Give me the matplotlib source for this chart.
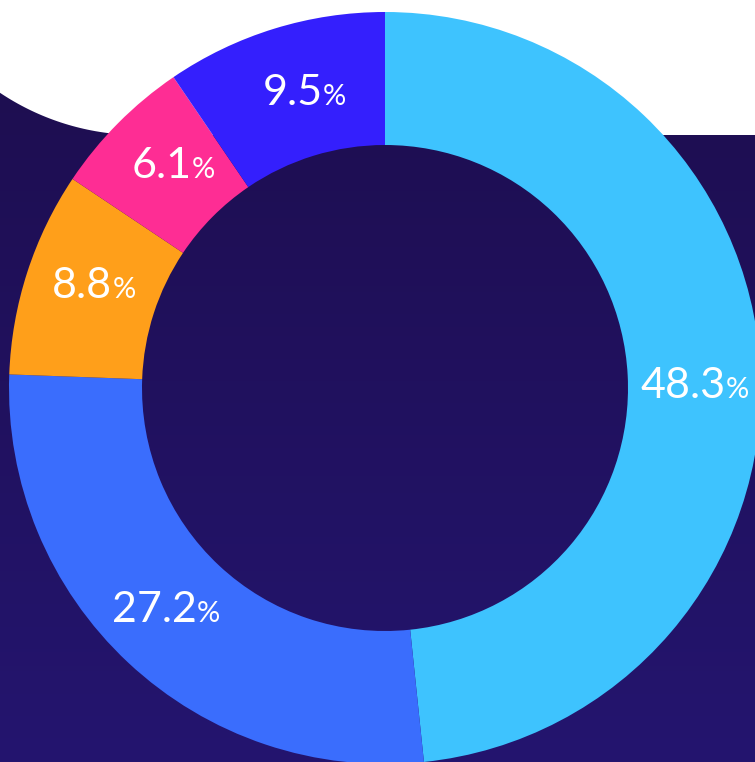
import numpy as np
import matplotlib
matplotlib.use("Agg")
import matplotlib.pyplot as plt
from matplotlib.patches import Polygon
from matplotlib.colors import LinearSegmentedColormap

# ---- data ----
values = [48.3, 27.2, 8.8, 6.1, 9.5]
labels = ["48.3", "27.2", "8.8", "6.1", "9.5"]
colors = ["#3ec3fe", "#3a6dfd", "#ff9f1a", "#fe2d94", "#341ffd"]

W, H, DPI = 755, 762, 100
fig = plt.figure(figsize=(W / DPI, H / DPI), dpi=DPI)
fig.patch.set_facecolor("white")

# ---- background (pixel coordinates, y down) ----
bg = fig.add_axes([0, 0, 1, 1], zorder=0)
bg.axis("off")
cmap = LinearSegmentedColormap.from_list("bg", ["#1d0d4d", "#24156f"])
grad = np.linspace(0, 1, 256).reshape(-1, 1)
bg.imshow(grad, cmap=cmap, extent=[0, W, H, 0], aspect="auto", zorder=0)

# white top shape with large rounded bottom-left corner
cx, cy, r = 139, -115, 250
th = np.linspace(np.pi / 2, np.pi, 100)
arc = np.column_stack([cx + r * np.cos(th), cy + r * np.sin(th)])
pts = np.vstack([[[W + 20, -200], [W + 20, 135]], arc, [[-200, -200]]])
bg.add_patch(Polygon(pts, closed=True, facecolor="white", edgecolor="none", zorder=1))
bg.set_xlim(0, W)
bg.set_ylim(H, 0)

# ---- donut ----
center_px = (385, 388)
R = 376
inner = 243
ax = fig.add_axes([(center_px[0] - R) / W, (H - center_px[1] - R) / H, 2 * R / W, 2 * R / H], zorder=1)
ax.set_facecolor("none")
width = 1 - inner / R
wedges, _ = ax.pie(values, colors=colors, startangle=90, counterclock=False,
                   radius=1, wedgeprops=dict(width=width, linewidth=0, antialiased=True))
ax.set_xlim(-1, 1)
ax.set_ylim(-1, 1)
ax.set_aspect("equal")
ax.axis("off")

# ---- labels ----
font = "Lato"
weight = "normal"
fs_num = 31
fs_pct = 21
fig.canvas.draw()
renderer = fig.canvas.get_renderer()
total = sum(values)
cum = 0.0
rmid = 1 - width / 2
angle_shift = -2.0
for v, lab in zip(values, labels):
    mid = 90 - (cum + v / 2) / total * 360 + angle_shift
    cum += v
    x = rmid * np.cos(np.radians(mid))
    y = rmid * np.sin(np.radians(mid))
    t1 = ax.text(0, 0, lab, fontsize=fs_num, family=font, weight=weight, color="white")
    t2 = ax.text(0, 0, "%", fontsize=fs_pct, family=font, weight=weight, color="white")
    w1 = t1.get_window_extent(renderer).width * 72 / DPI
    w2 = t2.get_window_extent(renderer).width * 72 / DPI
    t1.remove(); t2.remove()
    tot = w1 + w2
    cap = fs_num * 0.72
    ax.annotate(lab, (x, y), xytext=(-tot / 2, -cap / 2), textcoords="offset points",
                ha="left", va="baseline", fontsize=fs_num, family=font, weight=weight, color="white")
    ax.annotate("%", (x, y), xytext=(-tot / 2 + w1, -cap / 2), textcoords="offset points",
                ha="left", va="baseline", fontsize=fs_pct, family=font, weight=weight, color="white")

fig.savefig("out.png", dpi=DPI)
